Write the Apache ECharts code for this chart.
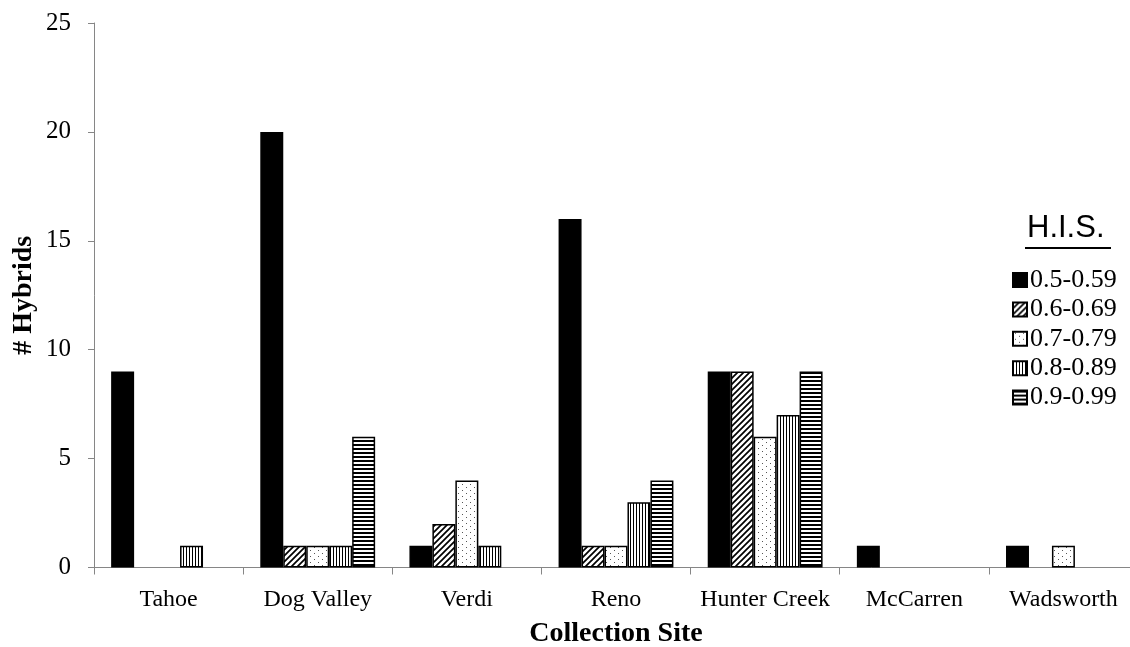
<!DOCTYPE html>
<html>
<head>
<meta charset="utf-8">
<script src="https://cdn.jsdelivr.net/npm/echarts@6/dist/echarts.min.js"></script>
<style>
  html, body { margin: 0; padding: 0; background: #fff; }
  #chart { width: 1130px; height: 647px; }
</style>
</head>
<body>
<div id="chart"></div>
<script>
// Collection sites along the x axis
const sites = ['Tahoe', 'Dog Valley', 'Verdi', 'Reno', 'Hunter Creek', 'McCarren', 'Wadsworth'];

// H.I.S. classes (legend entries)
const hisClasses = ['0.5-0.59', '0.6-0.69', '0.7-0.79', '0.8-0.89', '0.9-0.99'];

// Number of hybrids per site, one array per H.I.S. class
const his059 = [9, 20, 1, 16, 9, 1, 1];
const his069 = [0, 1, 2, 1, 9, 0, 0];
const his079 = [0, 1, 4, 1, 6, 0, 1];
const his089 = [1, 1, 1, 3, 7, 0, 0];
const his099 = [0, 6, 0, 4, 9, 0, 0];

// y axis ticks
const yTicks = [0, 5, 10, 15, 20, 25];

const seriesValues = [his059, his069, his079, his089, his099];

// Fill patterns drawn on small canvas tiles
function tile(w, h, draw) {
  const c = document.createElement('canvas');
  c.width = w; c.height = h;
  const ctx = c.getContext('2d');
  ctx.fillStyle = '#fff';
  ctx.fillRect(0, 0, w, h);
  ctx.fillStyle = '#000';
  ctx.strokeStyle = '#000';
  draw(ctx);
  return { image: c, repeat: 'repeat' };
}

const hatch = tile(6, 6, ctx => {
  ctx.lineWidth = 1.7;
  ctx.beginPath();
  for (let k = -1; k <= 1; k++) {
    ctx.moveTo(k * 6 - 1, 7);
    ctx.lineTo(k * 6 + 7, -1);
  }
  ctx.stroke();
});

const dots = tile(8, 6, ctx => {
  ctx.fillStyle = '#555';
  ctx.fillRect(2, 1, 1, 1);
  ctx.fillRect(6, 4, 1, 1);
});

const vStripes = tile(3, 1, ctx => {
  ctx.fillRect(0, 0, 1, 1);
});

const hStripes = tile(1, 4, ctx => {
  ctx.fillRect(0, 0, 1, 2);
});

const fills = ['#000', hatch, dots, vStripes, hStripes];

const serif = 'Liberation Serif';
const axisGray = '#868686';

const chart = echarts.init(document.getElementById('chart'), null, { renderer: 'canvas' });

chart.setOption({
  animation: false,
  backgroundColor: '#fff',
  grid: { left: 94, right: -8, top: 23, bottom: 79.5, containLabel: false, outerBoundsMode: 'none' },
  legend: {
    orient: 'vertical',
    left: 1012,
    top: 267,
    padding: 0,
    itemGap: 3.4,
    itemWidth: 14,
    itemHeight: 14,
    icon: 'rect',
    selectedMode: false,
    data: hisClasses,
    textStyle: { fontFamily: serif, fontSize: 26, color: '#000', padding: [0, 0, 0, -2] }
  },
  graphic: [
    {
      type: 'text',
      left: 1027,
      top: 213,
      style: { text: 'H.I.S.', font: '31px "Liberation Sans"', fill: '#000' }
    },
    {
      type: 'line',
      shape: { x1: 1025, y1: 248, x2: 1111, y2: 248 },
      style: { stroke: '#000', lineWidth: 2 }
    }
  ],
  xAxis: {
    type: 'category',
    data: sites,
    name: 'Collection Site',
    nameLocation: 'middle',
    nameGap: 52,
    nameMoveOverlap: false,
    nameTextStyle: { fontFamily: serif, fontSize: 28, fontWeight: 'bold', color: '#000' },
    axisLine: { lineStyle: { color: axisGray, width: 1 } },
    axisTick: { show: true, length: 7, lineStyle: { color: axisGray } },
    axisLabel: { interval: 0, margin: 20, fontFamily: serif, fontSize: 24, color: '#000' },
    splitLine: { show: false }
  },
  yAxis: {
    type: 'value',
    min: yTicks[0],
    max: yTicks[yTicks.length - 1],
    interval: yTicks[1] - yTicks[0],
    name: '# Hybrids',
    nameLocation: 'middle',
    nameRotate: 90,
    nameGap: 56,
    nameMoveOverlap: false,
    nameTextStyle: { fontFamily: serif, fontSize: 28, fontWeight: 'bold', color: '#000' },
    axisLine: { show: true, lineStyle: { color: axisGray, width: 1 } },
    axisTick: { show: true, length: 6, lineStyle: { color: axisGray } },
    axisLabel: { margin: 23, fontFamily: serif, fontSize: 25, color: '#000' },
    splitLine: { show: false }
  },
  series: hisClasses.map((name, i) => ({
    name: name,
    type: 'bar',
    barGap: '0%',
    barCategoryGap: '23%',
    data: seriesValues[i].map(v => (v === 0 ? null : v)),
    itemStyle: { color: fills[i], borderColor: '#000', borderWidth: 1.5 },
    emphasis: { disabled: true }
  }))
});
</script>
</body>
</html>
